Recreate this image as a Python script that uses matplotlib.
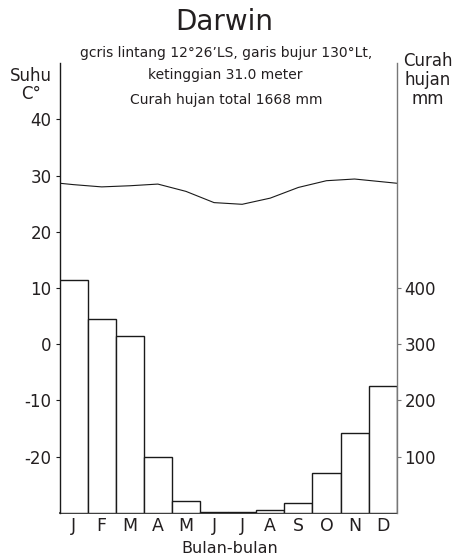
import matplotlib
matplotlib.use("Agg")
import matplotlib.pyplot as plt
import numpy as np

plt.rcParams['font.family'] = ['DejaVu Sans']
plt.rcParams['axes.unicode_minus'] = False

months = ["J", "F", "M", "A", "M", "J", "J", "A", "S", "O", "N", "D"]
rain_mm = [414, 345, 314, 100, 21, 2, 1, 5, 17, 70, 141, 225]
temp_c = [28.4, 28.0, 28.2, 28.5, 27.2, 25.2, 24.9, 26.0, 27.9, 29.1, 29.4, 28.9]
temp_ticks = [-20, -10, 0, 10, 20, 30, 40]
rain_ticks = [100, 200, 300, 400]

title = "Darwin"
sub1 = "gcris lintang 12°26’LS, garis bujur 130°Lt,"
sub2 = "ketinggian 31.0 meter"
sub3 = "Curah hujan total 1668 mm"

TXT = '#231f20'
W, H = 455, 556
fig = plt.figure(figsize=(W / 100, H / 100), dpi=100)

def fx(px):
    return px / W

def fy(py):
    return 1 - py / H

left, right, top, bottom = 59.5, 396.7, 63.3, 512.7
ax = fig.add_axes([fx(left), fy(bottom), fx(right - left), (bottom - top) / H])
ax2 = ax.twinx()

# rainfall bars
x = np.arange(len(months)) + 0.5
ax2.bar(x, rain_mm, width=1.0, color='white', edgecolor='#1a1a1a', linewidth=1.0, zorder=2)
ax2.set_ylim(0, 800)

# temperature line (cyclic ends at the spines)
edge = (temp_c[0] + temp_c[-1]) / 2
lx = np.concatenate([[0], x, [12]])
ly = np.concatenate([[edge], temp_c, [edge]])
ax.plot(lx, ly, color='#1a1a1a', linewidth=0.8)
ax.set_ylim(-30, 50)
ax.set_xlim(0, 12)

# spines
for a in (ax, ax2):
    a.spines['top'].set_visible(False)
ax.spines['right'].set_visible(False)
ax2.spines['left'].set_visible(False)
ax2.spines['bottom'].set_visible(False)
ax.spines['left'].set_color('#1a1a1a')
ax.spines['left'].set_linewidth(1.0)
ax.spines['bottom'].set_color('#1a1a1a')
ax.spines['bottom'].set_linewidth(1.2)
ax2.spines['right'].set_color('#777777')
ax2.spines['right'].set_linewidth(1.0)

ax.set_yticks(temp_ticks)
ax.set_yticklabels([str(t) for t in temp_ticks])
ax.tick_params(axis='y', direction='out', length=3.2, width=0.8, color='#1a1a1a',
               labelsize=12, labelcolor=TXT, pad=2.5)
ax2.set_yticks(rain_ticks)
ax2.set_yticklabels([str(t) for t in rain_ticks])
ax2.tick_params(axis='y', direction='out', length=3.0, width=0.8, color='#777777',
                labelsize=12, labelcolor=TXT, pad=2.5)
ax.set_xticks(x)
ax.set_xticklabels(months)
ax.tick_params(axis='x', length=0, labelsize=12.5, labelcolor=TXT, pad=3)

# texts
fig.text(fx(224), fy(30), title, ha='center', va='baseline', fontsize=20, color=TXT)
fig.text(fx(226), fy(56.7), sub1, ha='center', va='baseline', fontsize=10, color=TXT)
fig.text(fx(225), fy(79.3), sub2, ha='center', va='baseline', fontsize=10, color=TXT)
fig.text(fx(226), fy(104.3), sub3, ha='center', va='baseline', fontsize=10, color=TXT)

fig.text(fx(31), fy(80.7), "Suhu", ha='center', va='baseline', fontsize=12, color=TXT)
fig.text(fx(30.7), fy(99.3), "C°", ha='center', va='baseline', fontsize=12, color=TXT)
fig.text(fx(428), fy(103.5), "Curah\nhujan\nmm", ha='center', va='baseline',
         multialignment='center', linespacing=1.05, fontsize=12, color=TXT)

fig.text(fx(229.5), fy(552.7), "Bulan-bulan", ha='center', va='baseline', fontsize=11.5, color=TXT)

fig.savefig("out.png", dpi=100)
